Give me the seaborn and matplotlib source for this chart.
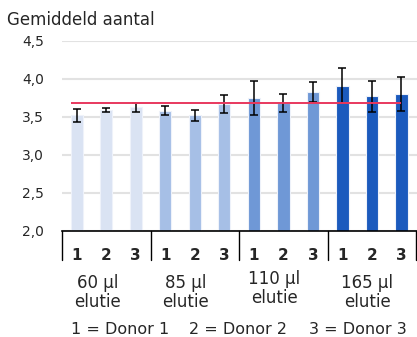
import numpy as np
import pandas as pd
import matplotlib
matplotlib.use("Agg")
import matplotlib.pyplot as plt
import matplotlib.transforms as mtrans
import seaborn as sns

groups = ["60 µl\nelutie", "85 µl\nelutie", "110 µl\nelutie", "165 µl\nelutie"]
donors = ["1", "2", "3"]
means = [3.52, 3.59, 3.63, 3.58, 3.52, 3.67, 3.75, 3.68, 3.83, 3.91, 3.77, 3.80]
errors = [0.09, 0.03, 0.06, 0.06, 0.07, 0.12, 0.22, 0.12, 0.13, 0.23, 0.20, 0.22]
reference = 3.69
group_colors = ["#dae3f3", "#a6bfe6", "#6f98d6", "#1b5abd"]
legend_items = ["1 = Donor 1", "2 = Donor 2", "3 = Donor 3"]

df = pd.DataFrame({
    "bar": [str(i) for i in range(len(means))],
    "group": [g for g in groups for _ in donors],
    "donor": donors * len(groups),
    "mean": means,
    "err": errors,
})

sns.set_style("white")
plt.rcParams["font.family"] = ["DejaVu Sans"]

fig = plt.figure(figsize=(4.17, 3.37), dpi=100)
ax = fig.add_axes([62 / 417, 1 - 231 / 337, 355 / 417, 190 / 337])

sns.barplot(data=df, x="bar", y="mean", hue="group", palette=group_colors,
            saturation=1, dodge=False, width=0.42, legend=False, ax=ax,
            edgecolor="#eef2fa", linewidth=0.8, errorbar=None)
ax.errorbar(range(len(means)), df["mean"], yerr=df["err"], fmt="none",
            ecolor="black", elinewidth=1.1, capsize=3, capthick=1.1, zorder=4)
ax.hlines(reference, -0.2, 11, color="#e8385e", linewidth=1.4, zorder=5)

ax.set_ylim(2.0, 4.5)
ax.set_xlim(-0.5, 11.53)
yt = [2.0, 2.5, 3.0, 3.5, 4.0, 4.5]
ax.set_yticks(yt)
ax.set_yticklabels([f"{v:.1f}".replace(".", ",") for v in yt], fontsize=10)
ax.tick_params(axis="y", length=0, pad=13)
ax.yaxis.grid(True, color="#e2e2e2", linewidth=1.5)
ax.set_axisbelow(True)
for s in ["left", "right", "top"]:
    ax.spines[s].set_visible(False)
ax.spines["bottom"].set_color("black")
ax.spines["bottom"].set_linewidth(1.2)

ax.set_xticks(range(len(means)))
ax.set_xticklabels(donors * len(groups), fontsize=11, fontweight="bold")
ax.tick_params(axis="x", length=0, pad=12)
ax.set_xticks(np.arange(-0.5, 12, 1), minor=True)
ax.tick_params(axis="x", which="minor", length=5, width=1, color="black")
ax.set_xlabel("")
ax.set_ylabel("")

# long ticks between the groups
for b in [-0.5, 2.5, 5.5, 8.5, 11.5]:
    ax.plot([b, b], [0, -0.155], transform=ax.get_xaxis_transform(),
            color="black", linewidth=1, clip_on=False)

tr = mtrans.blended_transform_factory(ax.transData, fig.transFigure)
label_x = [0.7, 3.7, 6.7, 9.85]
label_y = [274, 274, 270, 274]
for g, x, y in zip(groups, label_x, label_y):
    fig.text(x, 1 - y / 337, g, transform=tr,
             ha="center", va="top", fontsize=12, linespacing=1.08)
for t, x in zip(legend_items, [120, 238, 358]):
    fig.text(x / 417, 1 - 330 / 337, t, ha="center", va="center", fontsize=11.5)

fig.text(7 / 417, 1 - 20 / 337, "Gemiddeld aantal", ha="left", va="center", fontsize=12)

fig.savefig("out.png", dpi=100)
